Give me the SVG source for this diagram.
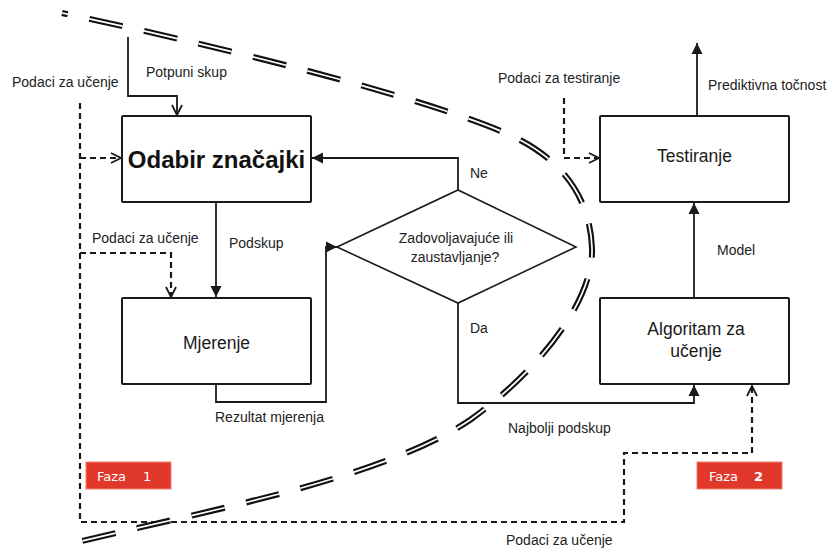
<svg xmlns="http://www.w3.org/2000/svg" width="833" height="549" viewBox="0 0 833 549">
<defs>
<style>
.box{fill:#fff;stroke:#1a1a1a;stroke-width:2}
.lbl{font-family:"Liberation Sans",Arial,sans-serif;font-size:14px;fill:#222}
.big{font-family:"Liberation Sans",Arial,sans-serif;font-size:17.5px;fill:#1a1a1a;text-anchor:middle}
.solid{fill:none;stroke:#1a1a1a;stroke-width:1.8}
.dash{fill:none;stroke:#1a1a1a;stroke-width:2.2;stroke-dasharray:6 4}
.faza{fill:#e0392b;stroke:#f08070;stroke-width:1}
.fz{font-family:"DejaVu Sans","Liberation Sans",sans-serif;font-size:13px;fill:#fff}
.curve{fill:none;stroke-dasharray:34 22;stroke-dashoffset:28}
</style>
<marker id="af" markerUnits="userSpaceOnUse" markerWidth="12" markerHeight="12" viewBox="0 0 12 12" refX="11" refY="6" orient="auto">
<path d="M0,0.5 L11,6 L0,11.5 z" fill="#1a1a1a"/>
</marker>
<marker id="ao" markerUnits="userSpaceOnUse" markerWidth="12" markerHeight="12" viewBox="0 0 12 12" refX="11" refY="6" orient="auto">
<path d="M1,1 L11,6 L1,11" fill="none" stroke="#1a1a1a" stroke-width="1.8"/>
</marker>
</defs>
<rect width="833" height="549" fill="#fff"/>

<g id="connectors">
<path class="solid" d="M128,37 V96 H177 V115" marker-end="url(#ao)"/>
<path class="dash" d="M80,103 V522 H624 V453 H752 V386" marker-end="url(#ao)"/>
<path class="dash" d="M80,158 H121" marker-end="url(#ao)"/>
<path class="dash" d="M80,253 H171 V297" marker-end="url(#ao)"/>
<path class="dash" d="M564,98 V158 H599" marker-end="url(#ao)"/>
<path class="solid" d="M216,202 V297" marker-end="url(#af)"/>
<path class="solid" d="M216,384 V402 H326 V247 H337" marker-end="url(#af)"/>
<path class="solid" d="M458,190 V158 H312" marker-end="url(#af)"/>
<path class="solid" d="M458,303 V403 H694 V385" marker-end="url(#af)"/>
<path class="solid" d="M694,298 V203" marker-end="url(#af)"/>
<path class="solid" d="M697,116 V43" marker-end="url(#af)"/>
<text class="lbl" x="146" y="77">Potpuni skup</text>
<text class="lbl" x="12" y="87">Podaci za učenje</text>
<text class="lbl" x="92" y="243">Podaci za učenje</text>
<text class="lbl" x="229" y="248">Podskup</text>
<text class="lbl" x="498" y="83">Podaci za testiranje</text>
<text class="lbl" x="708" y="90">Prediktivna točnost</text>
<text class="lbl" x="470" y="178">Ne</text>
<text class="lbl" x="717" y="255">Model</text>
<text class="lbl" x="470" y="333">Da</text>
<text class="lbl" x="508" y="433">Najbolji podskup</text>
<text class="lbl" x="215" y="422">Rezultat mjerenja</text>
<text class="lbl" x="506" y="545">Podaci za učenje</text>
</g>

<g id="boundary">
<path class="curve" d="M62,13 C200,42 420,95 510,135 C560,158 590,195 592,248 C594,300 540,370 470,420 C380,480 200,512 65,545" stroke="#111" stroke-width="6"/>
<path class="curve" d="M62,13 C200,42 420,95 510,135 C560,158 590,195 592,248 C594,300 540,370 470,420 C380,480 200,512 65,545" stroke="#fff" stroke-width="1.7"/>
</g>

<g id="node-odabir">
<rect class="box" x="122" y="116" width="189" height="86" rx="1"/>
<text x="216.5" y="168" font-family="'Liberation Sans',Arial,sans-serif" font-size="24" font-weight="bold" fill="#111" text-anchor="middle">Odabir značajki</text>
</g>
<g id="node-mjerenje">
<rect class="box" x="122" y="298" width="189" height="86" rx="1"/>
<text class="big" x="216.5" y="349">Mjerenje</text>
</g>
<g id="node-testiranje">
<rect class="box" x="600" y="116" width="189" height="86" rx="1"/>
<text class="big" x="694.5" y="162">Testiranje</text>
</g>
<g id="node-algoritam">
<rect class="box" x="600" y="298" width="189" height="86" rx="1"/>
<text class="big" x="696" y="335">Algoritam za</text>
<text class="big" x="696" y="357">učenje</text>
</g>
<g id="node-decision">
<polygon points="337,247 458,190 576,247 458,303" fill="#fff" stroke="#1a1a1a" stroke-width="1.6"/>
<text class="lbl" x="456" y="243" text-anchor="middle">Zadovoljavajuće ili</text>
<text class="lbl" x="455" y="262" text-anchor="middle">zaustavljanje?</text>
</g>
<g id="faza1">
<rect class="faza" x="86" y="462" width="85" height="27"/>
<text class="fz" x="97" y="481">Faza</text>
<text class="fz" x="143" y="481">1</text>
</g>
<g id="faza2">
<rect class="faza" x="697" y="462" width="85" height="27"/>
<text class="fz" x="709" y="481">Faza</text>
<text class="fz" x="754" y="481" font-weight="bold">2</text>
</g>
</svg>
